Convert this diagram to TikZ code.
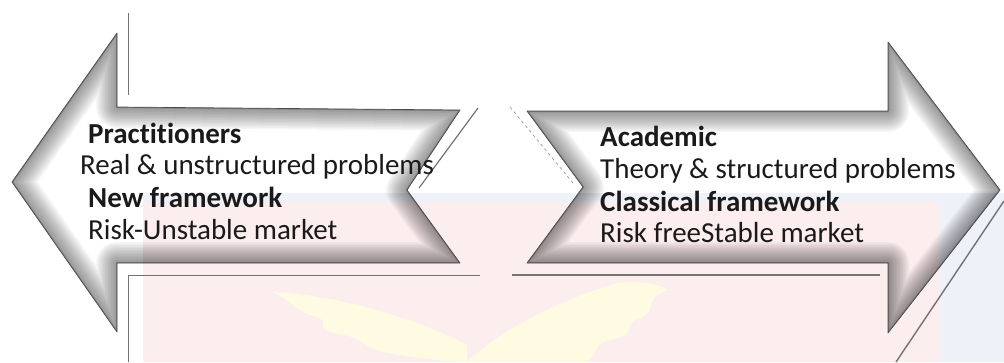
\documentclass[tikz,border=0pt]{standalone}
\usepackage{fontspec}
\setmainfont{Carlito}[Ligatures=NoCommon]
\definecolor{wmpink}{HTML}{FCEDEF}
\definecolor{wmblue}{HTML}{EFF1F8}
\definecolor{wmwing}{HTML}{FEFBE2}
\definecolor{inktext}{HTML}{1A1A1A}
\begin{document}
\begin{tikzpicture}[x=1pt,y=-1pt,
  txt/.style={anchor=base west, inner sep=0pt, text=inktext,
    font=\fontsize{29}{33}\selectfont},
  txtb/.style={txt, font=\fontsize{29}{33}\selectfont\bfseries},
  rim/.style={draw=black!70, line width=0.7pt, line join=round},
  ghost/.style={draw=black!55, line width=0.7pt},
  glow/.style={draw=black, line join=round},
]
\useasboundingbox (0,0) rectangle (1004,362);

% faint background emblem
\fill[wmblue] (143,193) rectangle (1004,362);
\fill[wmpink] (143,202) rectangle (940,362);
\fill[wmwing] (467,362) .. controls (500,330) and (560,300) .. (617,283)
  .. controls (640,280) and (660,284) .. (668,290)
  .. controls (640,300) and (660,310) .. (640,318)
  .. controls (620,325) and (640,335) .. (610,340)
  .. controls (590,345) and (600,355) .. (585,362) -- cycle;
\fill[wmwing] (467,345) .. controls (420,320) and (340,295) .. (272,292)
  .. controls (300,305) and (290,310) .. (320,318)
  .. controls (330,325) and (310,330) .. (345,335)
  .. controls (370,342) and (360,350) .. (400,355)
  .. controls (430,360) and (450,362) .. (467,362) -- cycle;

% arrow outlines
\def\leftarrowpath{(12,182) -- (117,33) -- (117,107) -- (460,110) -- (407,190)
  -- (460,263) -- (117,263) -- (117,332) -- cycle}
\def\rightarrowpath{(527,111) -- (888,111) -- (888,42) -- (1000,190) -- (888,333)
  -- (888,263) -- (527,263) -- (583,187) -- cycle}

% left arrow: shaded rim fading inwards
\begin{scope}
  \clip \leftarrowpath;
  \foreach \w in {42,39,...,3}
    \draw[glow, line width=\w pt, opacity=0.035] \leftarrowpath;
  \draw[glow, line width=2pt, opacity=0.2] \leftarrowpath;
\end{scope}
\draw[rim] \leftarrowpath;

% right arrow: shaded rim fading inwards
\begin{scope}
  \clip \rightarrowpath;
  \foreach \w in {42,39,...,3}
    \draw[glow, line width=\w pt, opacity=0.035] \rightarrowpath;
  \draw[glow, line width=2pt, opacity=0.2] \rightarrowpath;
\end{scope}
\draw[rim] \rightarrowpath;

% offset outlines around the arrows
\coordinate (la1) at (128,13);  \coordinate (la2) at (128,95);
\coordinate (la3) at (128,362); \coordinate (la4) at (128,275);
\coordinate (la5) at (480,275);
\coordinate (la6) at (478,108); \coordinate (la7) at (419,188);
\draw[ghost] (la1) -- (la2);
\draw[ghost] (la3) -- (la4) -- (la5);
\draw[ghost, line width=1.2pt] (la6) -- (la7);

\coordinate (ra1) at (510,107); \coordinate (ra2) at (573,183);
\coordinate (ra3) at (512,275); \coordinate (ra4) at (880,275);
\coordinate (ra5) at (1004,201); \coordinate (ra6) at (896,362);
\draw[ghost, dashed, draw=black!40] (ra1) -- (ra2);
\draw[ghost, line width=1.2pt] (ra3) -- (ra4);
\draw[ghost, line width=1.4pt] (ra5) -- (ra6);

% left arrow text
\node[txtb] (prac) at (88,143) {Practitioners};
\node[txt]  (realp) at (80,174) {Real \& unstructured problems};
\node[txtb] (newfw) at (88,207) {New framework};
\node[txt]  (riskun) at (88,239) {Risk-Unstable market};

% right arrow text
\node[txtb] (acad) at (600,146) {Academic};
\node[txt]  (theory) at (600,178) {Theory \& structured problems};
\node[txtb] (classfw) at (600,211) {Classical framework};
\node[txt]  (riskfree) at (600,242) {Risk freeStable market};
\end{tikzpicture}
\end{document}
